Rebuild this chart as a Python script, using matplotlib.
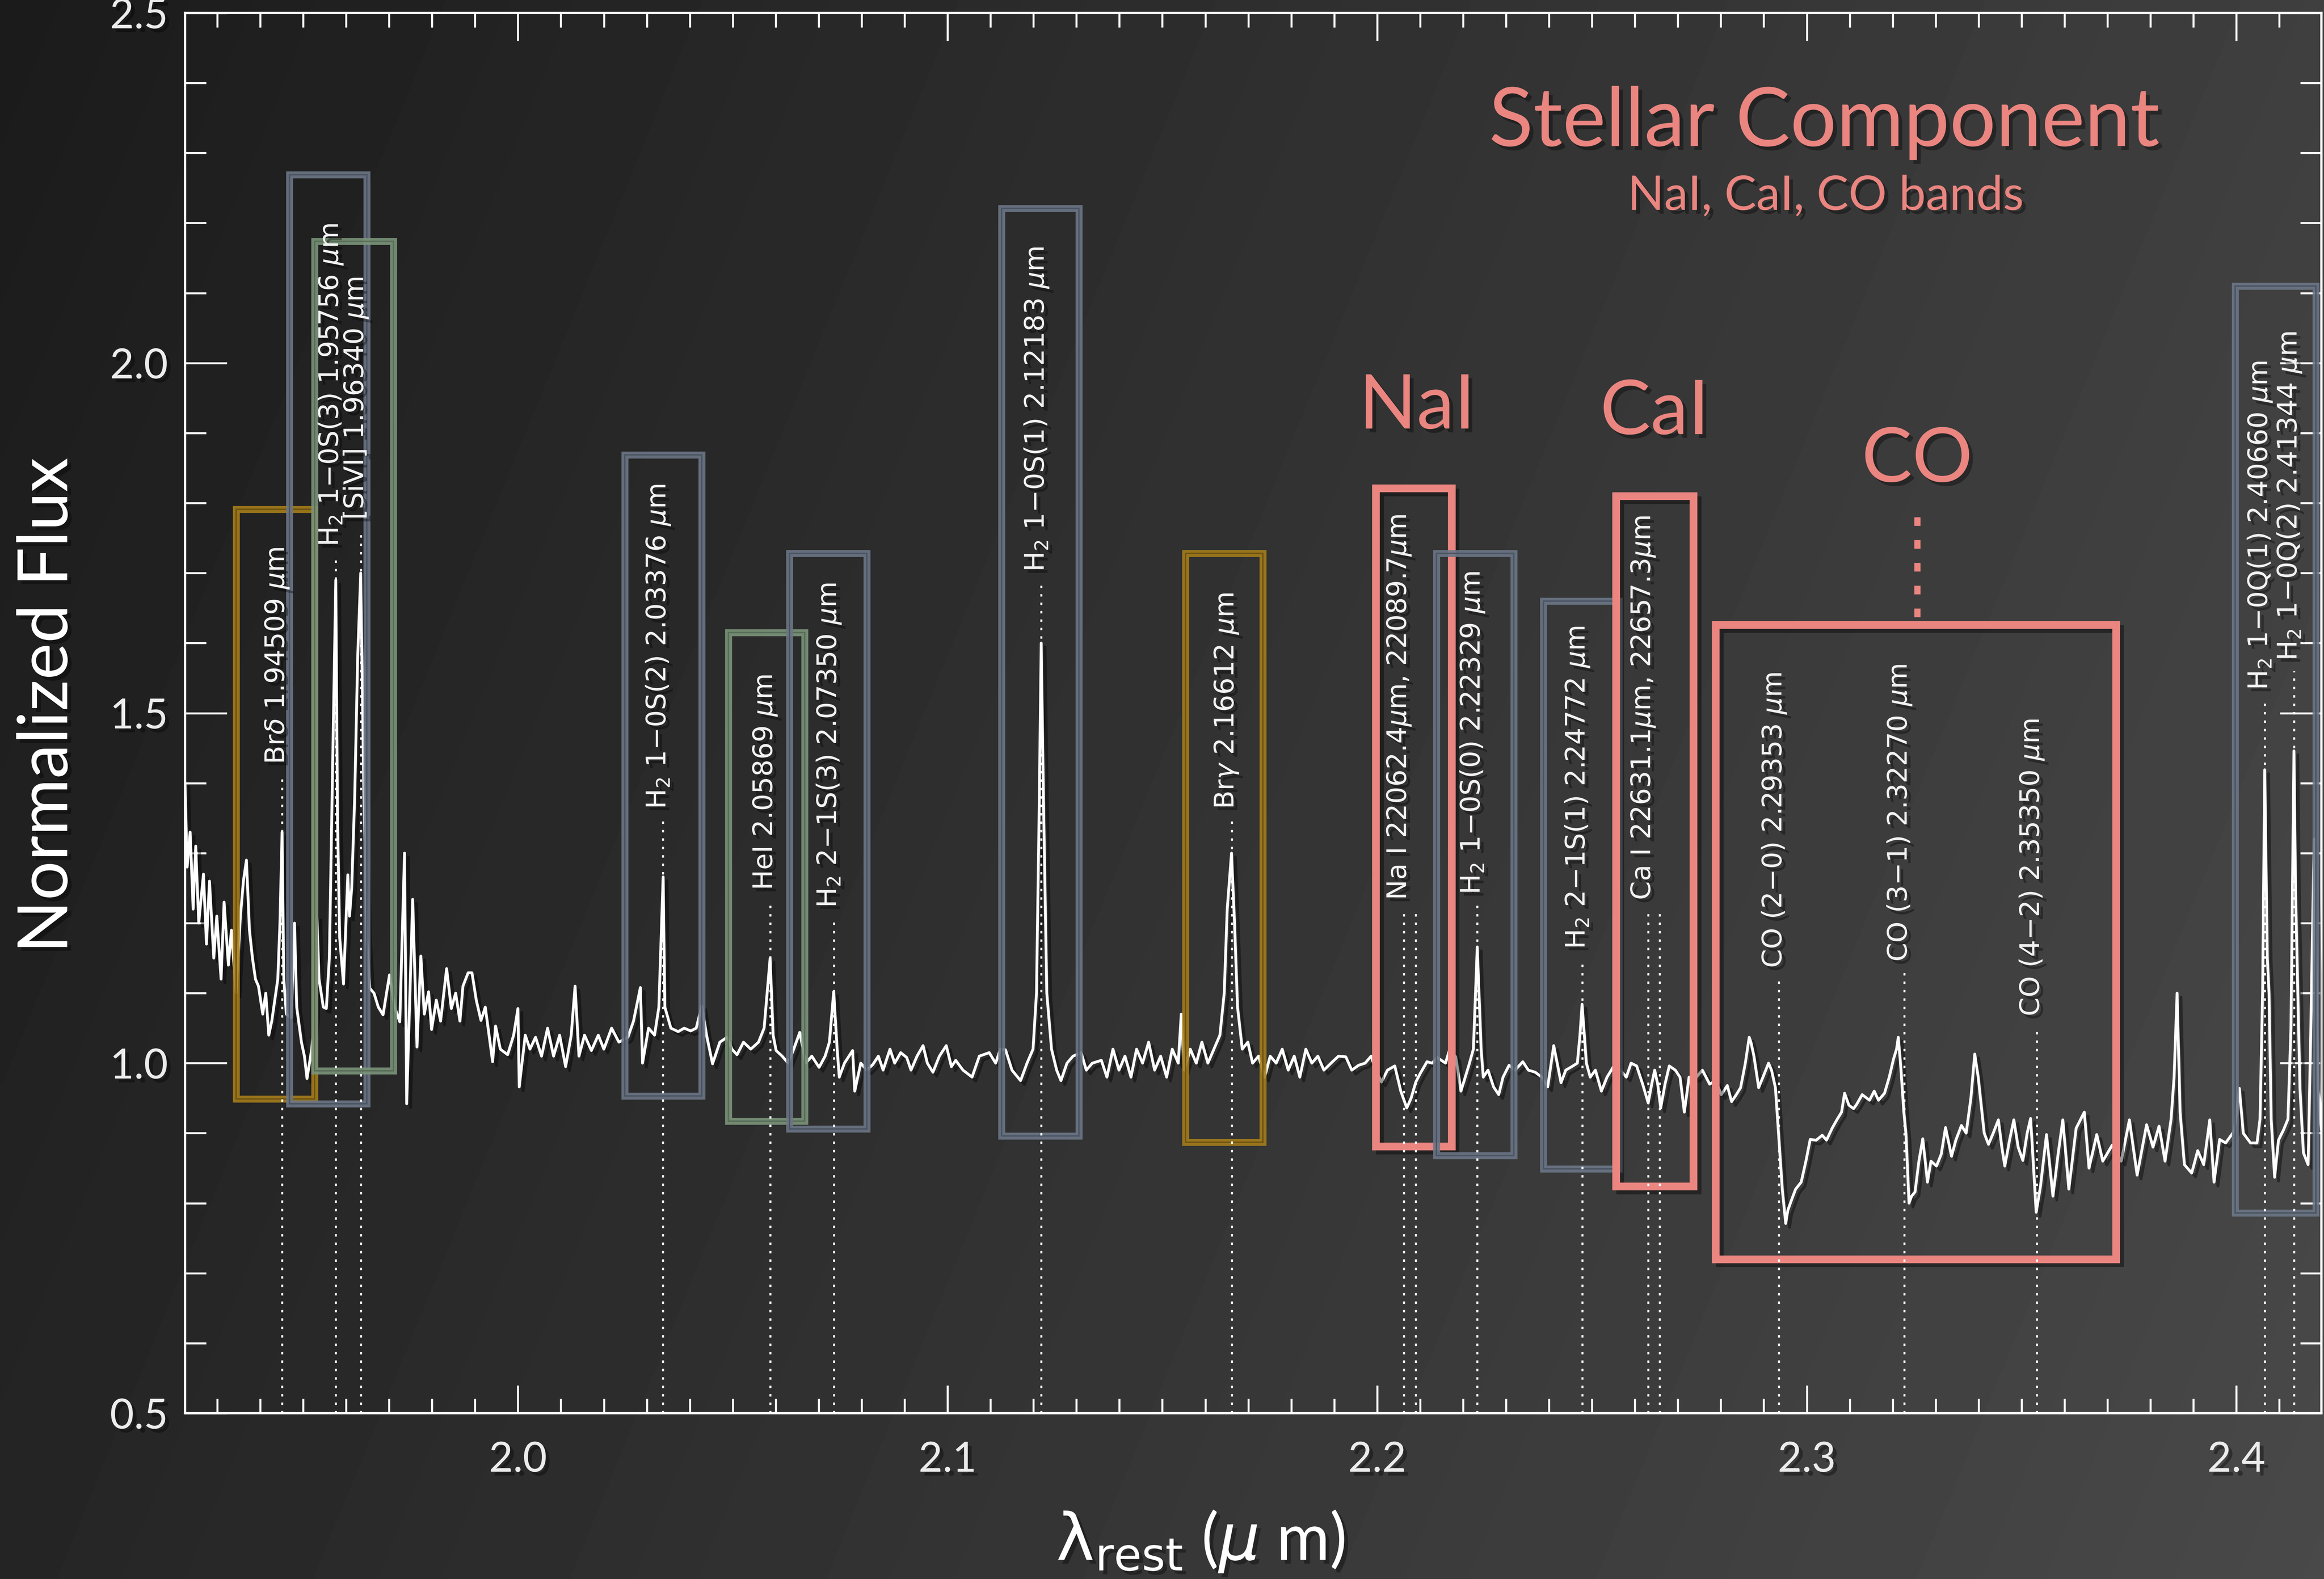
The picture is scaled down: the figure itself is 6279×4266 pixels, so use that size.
import numpy as np
import matplotlib
matplotlib.use("Agg")
import matplotlib.pyplot as plt
import matplotlib.patheffects as pe
from matplotlib.patches import Rectangle
from matplotlib.ticker import MultipleLocator, FormatStrFormatter

# K-band spectrum: rest wavelength (micron) and normalized flux
wave = [
    1.9225, 1.9230, 1.9237, 1.9244, 1.9250, 1.9257, 1.9268, 1.9275, 1.9282, 1.9292,
    1.9299, 1.9309, 1.9316, 1.9326, 1.9333, 1.9344, 1.9354, 1.9361, 1.9368, 1.9375,
    1.9382, 1.9389, 1.9396, 1.9406, 1.9413, 1.9420, 1.9427, 1.9434, 1.9441, 1.9446,
    1.9451, 1.9455, 1.9461, 1.9472, 1.9480, 1.9485, 1.9496, 1.9503, 1.9509, 1.9520,
    1.9527, 1.9532, 1.9537, 1.9547, 1.9554, 1.9561, 1.9568, 1.9576, 1.9580, 1.9585,
    1.9594, 1.9604, 1.9608, 1.9613, 1.9620, 1.9627, 1.9634, 1.9641, 1.9648, 1.9655,
    1.9665, 1.9675, 1.9686, 1.9701, 1.9713, 1.9725, 1.9736, 1.9741, 1.9755, 1.9765,
    1.9774, 1.9782, 1.9792, 1.9799, 1.9810, 1.9820, 1.9834, 1.9845, 1.9855, 1.9865,
    1.9872, 1.9884, 1.9893, 1.9903, 1.9914, 1.9924, 1.9941, 1.9948, 1.9959, 1.9976,
    1.9990, 2.0000, 2.0003, 2.0017, 2.0028, 2.0041, 2.0055, 2.0069, 2.0083, 2.0097,
    2.0111, 2.0124, 2.0133, 2.0142, 2.0155, 2.0171, 2.0187, 2.0200, 2.0218, 2.0235,
    2.0256, 2.0269, 2.0285, 2.0290, 2.0304, 2.0318, 2.0328, 2.0338, 2.0342, 2.0356,
    2.0373, 2.0387, 2.0402, 2.0415, 2.0428, 2.0439, 2.0453, 2.0470, 2.0487, 2.0498,
    2.0510, 2.0525, 2.0542, 2.0560, 2.0573, 2.0587, 2.0594, 2.0601, 2.0615, 2.0629,
    2.0642, 2.0656, 2.0670, 2.0684, 2.0701, 2.0715, 2.0725, 2.0735, 2.0743, 2.0748,
    2.0760, 2.0779, 2.0784, 2.0798, 2.0812, 2.0826, 2.0839, 2.0850, 2.0866, 2.0877,
    2.0891, 2.0905, 2.0915, 2.0929, 2.0943, 2.0953, 2.0966, 2.0981, 2.0997, 2.1009,
    2.1019, 2.1036, 2.1057, 2.1074, 2.1097, 2.1112, 2.1123, 2.1135, 2.1150, 2.1170,
    2.1185, 2.1199, 2.1207, 2.1213, 2.1218, 2.1224, 2.1231, 2.1242, 2.1254, 2.1264,
    2.1278, 2.1292, 2.1311, 2.1323, 2.1337, 2.1358, 2.1371, 2.1385, 2.1399, 2.1413,
    2.1427, 2.1440, 2.1454, 2.1468, 2.1482, 2.1496, 2.1510, 2.1523, 2.1537, 2.1544,
    2.1551, 2.1565, 2.1579, 2.1592, 2.1606, 2.1620, 2.1634, 2.1644, 2.1651, 2.1661,
    2.1668, 2.1675, 2.1686, 2.1699, 2.1710, 2.1724, 2.1738, 2.1751, 2.1765, 2.1779,
    2.1793, 2.1807, 2.1820, 2.1834, 2.1848, 2.1862, 2.1876, 2.1896, 2.1910, 2.1927,
    2.1941, 2.1957, 2.1972, 2.1986, 2.1997, 2.2010, 2.2024, 2.2041, 2.2055, 2.2069,
    2.2079, 2.2090, 2.2100, 2.2116, 2.2128, 2.2140, 2.2159, 2.2169, 2.2183, 2.2195,
    2.2213, 2.2224, 2.2233, 2.2242, 2.2247, 2.2258, 2.2271, 2.2283, 2.2293, 2.2307,
    2.2321, 2.2339, 2.2352, 2.2368, 2.2383, 2.2397, 2.2411, 2.2428, 2.2439, 2.2453,
    2.2466, 2.2472, 2.2477, 2.2487, 2.2496, 2.2508, 2.2522, 2.2535, 2.2551, 2.2566,
    2.2580, 2.2591, 2.2604, 2.2618, 2.2631, 2.2639, 2.2646, 2.2653, 2.2660, 2.2670,
    2.2680, 2.2694, 2.2705, 2.2715, 2.2726, 2.2743, 2.2757, 2.2774, 2.2788, 2.2801,
    2.2815, 2.2825, 2.2836, 2.2846, 2.2857, 2.2866, 2.2870, 2.2877, 2.2888, 2.2898,
    2.2911, 2.2918, 2.2927, 2.2936, 2.2943, 2.2951, 2.2956, 2.2966, 2.2974, 2.2987,
    2.2998, 2.3008, 2.3022, 2.3036, 2.3046, 2.3059, 2.3071, 2.3081, 2.3088, 2.3098,
    2.3109, 2.3116, 2.3129, 2.3146, 2.3157, 2.3167, 2.3181, 2.3192, 2.3202, 2.3209,
    2.3213, 2.3219, 2.3226, 2.3231, 2.3238, 2.3244, 2.3252, 2.3261, 2.3270, 2.3281,
    2.3289, 2.3302, 2.3313, 2.3323, 2.3337, 2.3347, 2.3360, 2.3371, 2.3382, 2.3391,
    2.3399, 2.3406, 2.3413, 2.3423, 2.3434, 2.3446, 2.3454, 2.3461, 2.3472, 2.3482,
    2.3492, 2.3503, 2.3513, 2.3521, 2.3527, 2.3534, 2.3544, 2.3558, 2.3573, 2.3585,
    2.3596, 2.3610, 2.3627, 2.3646, 2.3657, 2.3675, 2.3689, 2.3711, 2.3732, 2.3751,
    2.3769, 2.3791, 2.3806, 2.3820, 2.3834, 2.3848, 2.3855, 2.3862, 2.3869, 2.3879,
    2.3896, 2.3910, 2.3924, 2.3938, 2.3948, 2.3961, 2.3975, 2.3995, 2.4007, 2.4016,
    2.4033, 2.4048, 2.4055, 2.4061, 2.4066, 2.4072, 2.4076, 2.4081, 2.4089, 2.4098,
    2.4110, 2.4120, 2.4127, 2.4134, 2.4138, 2.4143, 2.4148, 2.4156, 2.4167, 2.4173,
    2.4181, 2.4190, 2.4198,
]
flux = [
    1.40, 1.28, 1.33, 1.22, 1.31, 1.20, 1.27, 1.17, 1.26, 1.15,
    1.21, 1.12, 1.23, 1.14, 1.19, 1.10, 1.21, 1.26, 1.29, 1.19,
    1.15, 1.12, 1.11, 1.07, 1.10, 1.04, 1.06, 1.09, 1.12, 1.20,
    1.33, 1.12, 1.07, 1.065, 1.20, 1.08, 1.03, 1.01, 0.978, 1.02,
    1.07, 1.21, 1.12, 1.08, 1.078, 1.15, 1.40, 1.69, 1.35, 1.18,
    1.113, 1.269, 1.21, 1.25, 1.38, 1.58, 1.70, 1.40, 1.18, 1.107,
    1.10, 1.08, 1.069, 1.126, 1.08, 1.059, 1.30, 0.942, 1.234, 1.023,
    1.153, 1.07, 1.102, 1.048, 1.09, 1.06, 1.135, 1.078, 1.10, 1.06,
    1.11, 1.129, 1.129, 1.09, 1.061, 1.08, 1.002, 1.053, 1.02, 1.012,
    1.04, 1.078, 0.966, 1.04, 1.02, 1.037, 1.01, 1.05, 1.01, 1.04,
    0.995, 1.04, 1.11, 1.01, 1.04, 1.018, 1.04, 1.02, 1.05, 1.03,
    1.037, 1.06, 1.108, 1.00, 1.05, 1.04, 1.08, 1.266, 1.08, 1.05,
    1.045, 1.05, 1.046, 1.05, 1.082, 1.04, 0.999, 1.03, 1.037, 1.02,
    1.012, 1.03, 1.02, 1.03, 1.05, 1.15, 1.04, 1.018, 1.01, 1.00,
    1.02, 1.044, 1.00, 1.01, 0.994, 1.01, 1.03, 1.102, 1.02, 0.98,
    1.00, 1.018, 0.96, 1.00, 0.99, 0.998, 1.01, 0.99, 1.02, 1.00,
    1.015, 1.008, 0.99, 1.01, 1.025, 1.00, 0.987, 1.01, 1.025, 0.995,
    1.004, 0.99, 0.98, 1.01, 1.015, 1.00, 1.02, 1.019, 0.99, 0.975,
    1.00, 1.02, 1.10, 1.35, 1.60, 1.35, 1.10, 1.02, 0.99, 0.975,
    1.00, 1.01, 1.015, 0.99, 1.00, 1.004, 0.98, 1.02, 0.99, 1.01,
    0.98, 1.02, 1.00, 1.03, 0.99, 1.01, 0.98, 1.02, 1.00, 1.07,
    0.99, 1.02, 1.00, 1.03, 1.00, 1.02, 1.04, 1.10, 1.22, 1.30,
    1.20, 1.08, 1.02, 1.03, 1.00, 1.01, 0.98, 1.01, 1.00, 1.02,
    0.99, 1.01, 0.98, 1.02, 1.00, 1.01, 0.99, 1.002, 1.01, 1.009,
    0.99, 0.997, 1.00, 1.01, 0.99, 0.973, 0.99, 0.996, 0.96, 0.936,
    0.95, 0.973, 0.985, 1.002, 1.00, 1.008, 1.00, 1.02, 1.009, 0.96,
    0.996, 1.02, 1.166, 1.02, 0.98, 0.99, 0.966, 0.955, 0.98, 0.997,
    0.99, 1.002, 0.99, 0.987, 0.98, 0.966, 1.025, 0.972, 0.99, 0.995,
    1.00, 1.04, 1.084, 1.00, 0.98, 0.99, 0.96, 0.98, 0.996, 0.99,
    0.98, 1.00, 0.996, 0.97, 0.943, 0.97, 0.99, 0.97, 0.936, 0.97,
    0.996, 0.99, 0.98, 0.93, 0.98, 0.98, 0.99, 0.97, 0.975, 0.955,
    0.968, 0.945, 0.955, 0.965, 1.00, 1.037, 1.03, 1.01, 0.965, 0.98,
    1.00, 0.99, 0.965, 0.884, 0.82, 0.771, 0.79, 0.807, 0.82, 0.83,
    0.86, 0.891, 0.89, 0.897, 0.89, 0.907, 0.92, 0.93, 0.957, 0.94,
    0.935, 0.941, 0.955, 0.947, 0.96, 0.947, 0.957, 0.98, 1.006, 1.02,
    1.037, 0.993, 0.93, 0.898, 0.80, 0.81, 0.816, 0.86, 0.892, 0.83,
    0.86, 0.853, 0.87, 0.908, 0.867, 0.89, 0.911, 0.90, 0.95, 1.013,
    0.98, 0.94, 0.90, 0.884, 0.90, 0.919, 0.88, 0.853, 0.89, 0.919,
    0.88, 0.861, 0.90, 0.921, 0.86, 0.787, 0.824, 0.898, 0.81, 0.87,
    0.919, 0.82, 0.907, 0.93, 0.85, 0.898, 0.86, 0.883, 0.86, 0.919,
    0.84, 0.912, 0.88, 0.91, 0.86, 0.92, 0.98, 1.10, 0.93, 0.855,
    0.843, 0.875, 0.855, 0.919, 0.83, 0.891, 0.886, 0.903, 0.964, 0.90,
    0.886, 0.886, 0.92, 1.10, 1.419, 1.15, 1.10, 0.92, 0.837, 0.89,
    0.905, 0.92, 1.05, 1.446, 1.237, 1.10, 0.964, 0.872, 0.855, 1.04,
    1.32, 0.964, 0.905,
]

# identified lines: label, line wavelength(s), flux level where the label starts
line_text = [
    r"Br$\delta$ 1.94509 $\mu$m",
    r"H$_2$ 1$-$0S(3) 1.95756 $\mu$m",
    r"[SiVI] 1.96340 $\mu$m",
    r"H$_2$ 1$-$0S(2) 2.03376 $\mu$m",
    r"HeI 2.05869 $\mu$m",
    r"H$_2$ 2$-$1S(3) 2.07350 $\mu$m",
    r"H$_2$ 1$-$0S(1) 2.12183 $\mu$m",
    r"Br$\gamma$ 2.16612 $\mu$m",
    r"Na I 22062.4$\mu$m, 22089.7$\mu$m",
    r"H$_2$ 1$-$0S(0) 2.22329 $\mu$m",
    r"H$_2$ 2$-$1S(1) 2.24772 $\mu$m",
    r"Ca I 22631.1$\mu$m, 22657.3$\mu$m",
    r"CO (2$-$0) 2.29353 $\mu$m",
    r"CO (3$-$1) 2.32270 $\mu$m",
    r"CO (4$-$2) 2.35350 $\mu$m",
    r"H$_2$ 1$-$0Q(1) 2.40660 $\mu$m",
    r"H$_2$ 1$-$0Q(2) 2.41344 $\mu$m",
]
line_waves = [
    [1.94509], [1.95756], [1.96340], [2.03376], [2.05869], [2.07350],
    [2.12183], [2.16612], [2.20624, 2.20897], [2.22329], [2.24772],
    [2.26311, 2.26573], [2.29353], [2.32270], [2.35350], [2.40660], [2.41344],
]
label_y = [1.427, 1.738, 1.776, 1.363, 1.247, 1.222, 1.702, 1.363, 1.233,
           1.241, 1.163, 1.233, 1.136, 1.145, 1.067, 1.533, 1.575]

# highlight boxes around the features (wavelength range, flux range, type)
box_x0 = [1.9344, 1.9468, 1.9527, 2.0249, 2.0490, 2.0632, 2.1126, 2.1554,
          2.1997, 2.2138, 2.2387, 2.2556, 2.2788, 2.3997]
box_x1 = [1.9527, 1.9648, 1.9710, 2.0428, 2.0667, 2.0812, 2.1306, 2.1734,
          2.2173, 2.2318, 2.2563, 2.2736, 2.3720, 2.4185]
box_y0 = [0.949, 0.942, 0.989, 0.953, 0.917, 0.906, 0.896, 0.887,
          0.881, 0.868, 0.849, 0.824, 0.720, 0.786]
box_y1 = [1.791, 2.269, 2.174, 1.869, 1.615, 1.728, 2.221, 1.728,
          1.821, 1.728, 1.660, 1.810, 1.626, 2.110]
box_kind = ["HI", "H2", "He", "H2", "He", "H2", "H2", "HI",
            "star", "H2", "H2", "star", "star", "H2"]

# stellar absorption features
band_names = ["NaI", "CaI", "CO"]
band_x = [2.2093, 2.2646, 2.3257]
band_y = [1.937, 1.929, 1.861]

PINK = "#ea8580"
box_style = {
    "H2": ("#6c7686", "#485160"),
    "HI": ("#a57d1a", "#6a4f12"),
    "He": ("#7b947a", "#566a55"),
}

plt.rcParams["font.family"] = ["Lato", "DejaVu Sans"]
plt.rcParams["mathtext.fontset"] = "dejavusans"

fig = plt.figure(figsize=(20.93, 14.22), dpi=300)

# dark background, brighter toward the lower right
bg = fig.add_axes([0, 0, 1, 1], zorder=-10)
gx, gy = np.meshgrid(np.linspace(0, 1, 400), np.linspace(0, 1, 300))
shade = (27 + 36 * gx + 10 * gy) / 255.0
bg.imshow(shade, cmap="gray", vmin=0, vmax=1, extent=[0, 1, 0, 1],
          aspect="auto", origin="upper", interpolation="bilinear")
bg.set_axis_off()

ax = fig.add_axes([0.0796, 0.1050, 0.9193, 0.8868])
ax.set_facecolor("none")

shadow_line = [pe.SimpleLineShadow(offset=(2.5, -2.5), shadow_color="black", alpha=0.4), pe.Normal()]
shadow_text = [pe.withSimplePatchShadow(offset=(2.5, -2.5), shadow_rgbFace="black", alpha=0.35)]

ax.plot(wave, flux, color="white", lw=1.8, zorder=3, path_effects=shadow_line)

# boxes
for x0, x1, y0, y1, kind in zip(box_x0, box_x1, box_y0, box_y1, box_kind):
    if kind == "star":
        ax.add_patch(Rectangle((x0, y0), x1 - x0, y1 - y0, fill=False,
                               edgecolor=PINK, lw=5, zorder=4, joinstyle="miter",
                               path_effects=shadow_line))
    else:
        outer, inner = box_style[kind]
        ax.add_patch(Rectangle((x0, y0), x1 - x0, y1 - y0, fill=False,
                               edgecolor=outer, lw=4.5, alpha=0.9, zorder=4, joinstyle="miter"))
        ax.add_patch(Rectangle((x0, y0), x1 - x0, y1 - y0, fill=False,
                               edgecolor=inner, lw=0.9, alpha=0.9, zorder=4, joinstyle="miter"))

# line markers and labels
for txt, lams, ly in zip(line_text, line_waves, label_y):
    for lam in lams:
        ax.plot([lam, lam], [0.5, ly - 0.015], color="white", lw=1.3,
                ls=(0, (1.2, 3)), zorder=5)
    ax.text(lams[0] - 0.0012, ly, txt, rotation=90, ha="center", va="bottom",
            color="#f2f2f2", fontsize=17.5, family=["DejaVu Sans"], zorder=6,
            path_effects=shadow_text)

for name, bx, by in zip(band_names, band_x, band_y):
    ax.text(bx, by, name, ha="center", va="center", color=PINK, fontsize=49,
            zorder=6, path_effects=shadow_text)

# dotted pointer from the CO label down to its box
ax.plot([band_x[2], band_x[2]], [1.780, box_y1[12]], color=PINK, lw=4,
        ls=(0, (1.4, 2.3)), solid_capstyle="butt", zorder=5)

ax.text(2.3041, 2.343, "Stellar Component", ha="center", va="center", color=PINK,
        fontsize=53, zorder=6, path_effects=shadow_text)
ax.text(2.3044, 2.238, "NaI, CaI, CO bands", ha="center", va="center", color=PINK,
        fontsize=31, zorder=6, path_effects=shadow_text)

ax.set_xlim(1.9225, 2.4198)
ax.set_ylim(0.5, 2.5)

ax.xaxis.set_major_locator(MultipleLocator(0.1))
ax.xaxis.set_minor_locator(MultipleLocator(0.01))
ax.yaxis.set_major_locator(MultipleLocator(0.5))
ax.yaxis.set_minor_locator(MultipleLocator(0.1))
ax.xaxis.set_major_formatter(FormatStrFormatter("%.1f"))
ax.yaxis.set_major_formatter(FormatStrFormatter("%.1f"))

ax.tick_params(which="both", direction="in", top=True, right=True,
               color="white", width=1.3, labelcolor="#ececec", labelsize=27)
ax.tick_params(axis="x", which="major", length=18, pad=18)
ax.tick_params(axis="x", which="minor", length=9.4)
ax.tick_params(axis="y", which="major", length=27, pad=11)
ax.tick_params(axis="y", which="minor", length=13.7)
for lab in ax.get_xticklabels() + ax.get_yticklabels():
    lab.set_path_effects(shadow_text)

for sp in ax.spines.values():
    sp.set_color("white")
    sp.set_linewidth(1.5)

fig.text(0.0204, 0.5532, "Normalized Flux", rotation=90, ha="center", va="center",
         color="white", fontsize=45, path_effects=shadow_text)
fig.text(0.5166, 0.0237, r"$\mathrm{\lambda_{rest}}$ ($\mu$ m)", ha="center", va="center",
         color="white", fontsize=42, path_effects=shadow_text)

fig.savefig("out.png", dpi=300)
